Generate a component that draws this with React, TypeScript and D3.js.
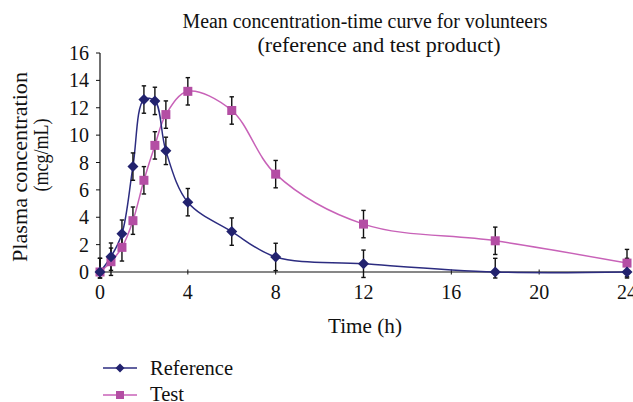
import React from "react";
import * as d3 from "d3";

const times = [0, 0.5, 1, 1.5, 2, 2.5, 3, 4, 6, 8, 12, 18, 24];
const referenceValues = [0, 1.12, 2.8, 7.7, 12.6, 12.5, 8.85, 5.1, 2.95, 1.1, 0.6, 0, 0];
const testValues = [0, 0.75, 1.8, 3.75, 6.7, 9.25, 11.5, 13.2, 11.8, 7.15, 3.5, 2.28, 0.65];
const referenceErr = [1, 1, 1, 1, 1, 1, 1, 1, 1, 1, 1, 1, 1];
const testErr = [1, 1, 1, 1, 1, 1, 1, 1, 1, 1, 1, 1, 1];
const xTicks = [0, 4, 8, 12, 16, 20, 24];
const yTicks = [0, 2, 4, 6, 8, 10, 12, 14, 16];

const REF_LINE = "#2c2c80";
const REF_MARK = "#22226e";
const TEST_LINE = "#c862b8";
const TEST_MARK = "#b44ea4";
const FONT = "'Liberation Serif', 'DejaVu Serif', serif";

export default function App() {
  const W = 633, H = 402;
  const x = d3.scaleLinear().domain([0, 24]).range([100, 627]);
  const y = d3.scaleLinear().domain([0, 16]).range([272, 53]);
  const line = d3
    .line<[number, number]>()
    .x((d) => x(d[0]))
    .y((d) => y(d[1]))
    .curve(d3.curveCatmullRom.alpha(0.5));
  const refPts = times.map((t, i) => [t, referenceValues[i]] as [number, number]);
  const testPts = times.map((t, i) => [t, testValues[i]] as [number, number]);
  const diamond = (cx: number, cy: number, r: number) =>
    `M${cx},${cy - r}L${cx + r},${cy}L${cx},${cy + r}L${cx - r},${cy}Z`;

  const errBars = (vals: number[], errs: number[], key: string) =>
    times.map((t, i) => {
      const cx = x(t);
      const top = y(vals[i] + errs[i]);
      const bot = Math.min(y(vals[i] - errs[i]), 278);
      return (
        <g key={key + i} stroke="#111" strokeWidth={1.4}>
          <line x1={cx} x2={cx} y1={top} y2={bot} />
          <line x1={cx - 2.2} x2={cx + 2.2} y1={top} y2={top} />
          <line x1={cx - 2.2} x2={cx + 2.2} y1={bot} y2={bot} />
        </g>
      );
    });

  const fit = { lengthAdjust: "spacingAndGlyphs" as const };

  return (
    <svg width={W} height={H} style={{ position: "absolute", left: 0, top: 0, background: "#fff" }} fontFamily={FONT}>
      <rect width={W} height={H} fill="#fff" />
      <text x={365} y={28} textAnchor="middle" fontSize={20} fill="#111" textLength={365} {...fit}>
        Mean concentration-time curve for volunteers
      </text>
      <text x={379} y={52} textAnchor="middle" fontSize={20} fill="#111" textLength={243} {...fit}>
        (reference and test product)
      </text>

      {/* axes */}
      <line x1={100} x2={100} y1={y(16)} y2={y(0)} stroke="#111" strokeWidth={1.2} />
      <line x1={100} x2={627} y1={y(0)} y2={y(0)} stroke="#111" strokeWidth={1.2} />
      {yTicks.map((v) => (
        <g key={"y" + v}>
          <line x1={96} x2={100} y1={y(v)} y2={y(v)} stroke="#111" strokeWidth={1} />
          <text x={89} y={y(v) + 7} textAnchor="end" fontSize={20} fill="#111">
            {v}
          </text>
        </g>
      ))}
      {xTicks.map((v) => (
        <g key={"x" + v}>
          <line x1={x(v)} x2={x(v)} y1={y(0) - 2.5} y2={y(0) + 2.5} stroke="#111" strokeWidth={1} />
          <text x={x(v)} y={y(0) + 27} textAnchor="middle" fontSize={20} fill="#111">
            {v}
          </text>
        </g>
      ))}
      <text x={365} y={333} textAnchor="middle" fontSize={20} fill="#111" textLength={74} {...fit}>
        Time (h)
      </text>
      <text transform="translate(27,167) rotate(-90)" textAnchor="middle" fontSize={21} fill="#111" textLength={190} {...fit}>
        Plasma concentration
      </text>
      <text transform="translate(48,155) rotate(-90)" textAnchor="middle" fontSize={20} fill="#111" textLength={73} {...fit}>
        (mcg/mL)
      </text>

      {/* lines */}
      <path d={line(testPts) || ""} fill="none" stroke={TEST_LINE} strokeWidth={1.5} />
      <path d={line(refPts) || ""} fill="none" stroke={REF_LINE} strokeWidth={1.5} />

      {errBars(referenceValues, referenceErr, "re")}
      {errBars(testValues, testErr, "te")}

      {testPts.map((p, i) => (
        <rect key={"tm" + i} x={x(p[0]) - 4.5} y={y(p[1]) - 4.5} width={9} height={9} fill={TEST_MARK} />
      ))}
      {refPts.map((p, i) => (
        <path key={"rm" + i} d={diamond(x(p[0]), y(p[1]), 5.5)} fill={REF_MARK} />
      ))}

      {/* legend */}
      <line x1={103} x2={137} y1={368} y2={368} stroke={REF_LINE} strokeWidth={1.5} />
      <path d={diamond(120, 368, 4.5)} fill={REF_MARK} />
      <text x={150} y={375} fontSize={20} fill="#111" textLength={83} {...fit}>Reference</text>
      <line x1={103} x2={137} y1={395} y2={395} stroke={TEST_LINE} strokeWidth={1.5} />
      <rect x={116} y={391} width={8} height={8} fill={TEST_MARK} />
      <text x={150} y={401} fontSize={20} fill="#111" textLength={34} {...fit}>Test</text>
    </svg>
  );
}
